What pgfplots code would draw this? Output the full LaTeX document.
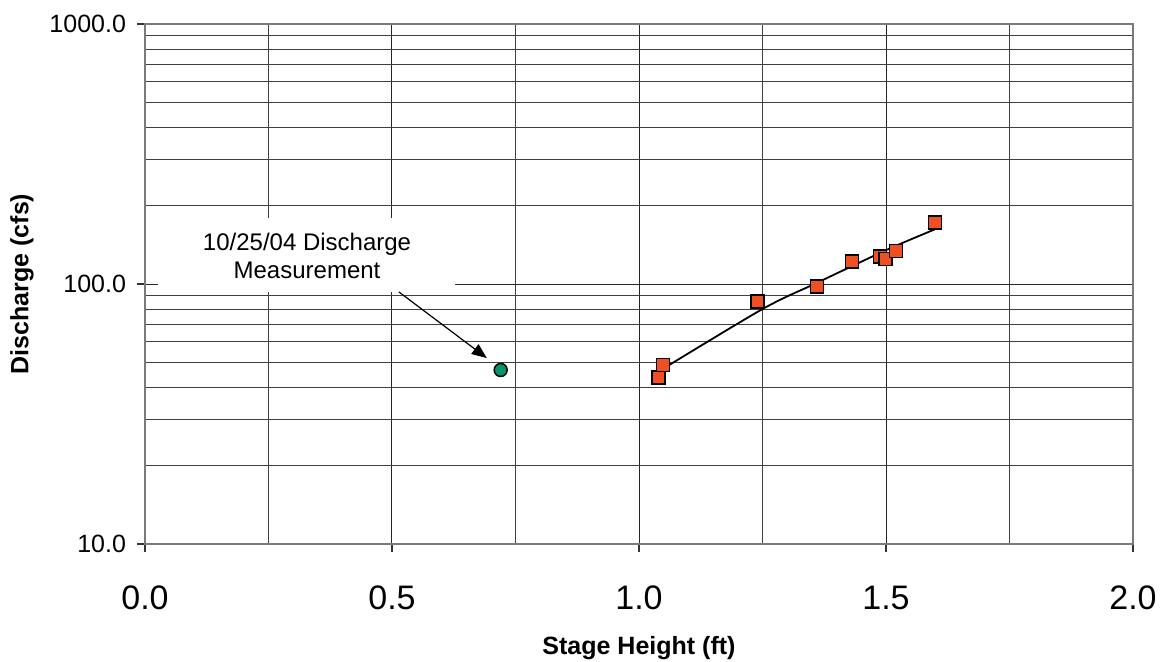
\documentclass[border=0pt]{standalone}
\usepackage{fontspec}
\setmainfont{Liberation Sans}
\usepackage{pgfplots}
\pgfplotsset{compat=1.18}
\usetikzlibrary{arrows.meta}
\definecolor{cMeas}{HTML}{F04E23}
\definecolor{cSpot}{HTML}{00956A}
\definecolor{cFrame}{HTML}{7A7A7A}

\begin{document}
\begin{tikzpicture}
\begin{axis}[at={(0,0)},anchor=south west,
    scale only axis,width=494pt,height=260pt,
    xmin=0,xmax=2,ymode=log,ymin=10,ymax=1000,
    xtick={0,0.5,1,1.5,2},xticklabels={0.0,0.5,1.0,1.5,2.0},
    minor xtick={0.25,0.75,1.25,1.75},
    ytick={10,100,1000},yticklabels={10.0,100.0,1000.0},
    xmajorgrids,xminorgrids,ymajorgrids,yminorgrids,
    major grid style={black!85,line width=0.5pt},
    minor grid style={black!75,line width=0.5pt},
    axis line style={cFrame,line width=1pt},
    tick pos=left,tick align=outside,
    major tick length=4pt,minor tick length=0pt,
    tick style={black!80,line width=0.6pt},
    xticklabel style={font=\fontsize{17}{20}\selectfont,anchor=center,yshift=-23pt},
    yticklabel style={font=\fontsize{12.5}{15}\selectfont,xshift=-2pt},
    xlabel={Stage Height (ft)},
    ylabel={Discharge (cfs)},
    xlabel style={at={(axis description cs:0.5,-0.2)},anchor=center,
      font=\bfseries\fontsize{12.5}{15}\selectfont},
    ylabel style={at={(axis description cs:-0.1245,0.5)},anchor=center,
      font=\bfseries\fontsize{12.5}{15}\selectfont}]

% label box over the grid
\fill[white] (axis cs:0.026,93.2) rectangle (axis cs:0.628,179.5);
\node[align=center,font=\fontsize{12}{14}\selectfont] at (axis cs:0.328,128)
  {10/25/04 Discharge\\Measurement};
\draw[-{Triangle[length=7.5pt,width=6pt]},line width=0.6pt]
  (axis cs:0.514,93.2) -- (axis cs:0.692,51.9);

% rating curve
\addplot[black,line width=0.9pt,smooth] coordinates {
  (1.039,46.0) (1.25,80.1) (1.36,101) (1.501,135.2) (1.599,162.3)};

% measurements
\addplot[only marks,mark=square*,mark size=3.25pt,
  mark options={fill=cMeas,draw=black,line width=0.75pt}] coordinates {
  (1.039,43.6) (1.049,48.8) (1.240,85.5) (1.360,97.6) (1.431,121.8)
  (1.488,127.4) (1.499,124.8) (1.520,133.9) (1.599,172.1)};

% 10/25/04 measurement
\addplot[only marks,mark=*,mark size=3.25pt,
  mark options={fill=cSpot,draw=black,line width=0.75pt}] coordinates {(0.72,46.7)};
\end{axis}
\pgfresetboundingbox
\path (-72.5pt,-58.5pt) rectangle (508.5pt,272pt);
\end{tikzpicture}
\end{document}
